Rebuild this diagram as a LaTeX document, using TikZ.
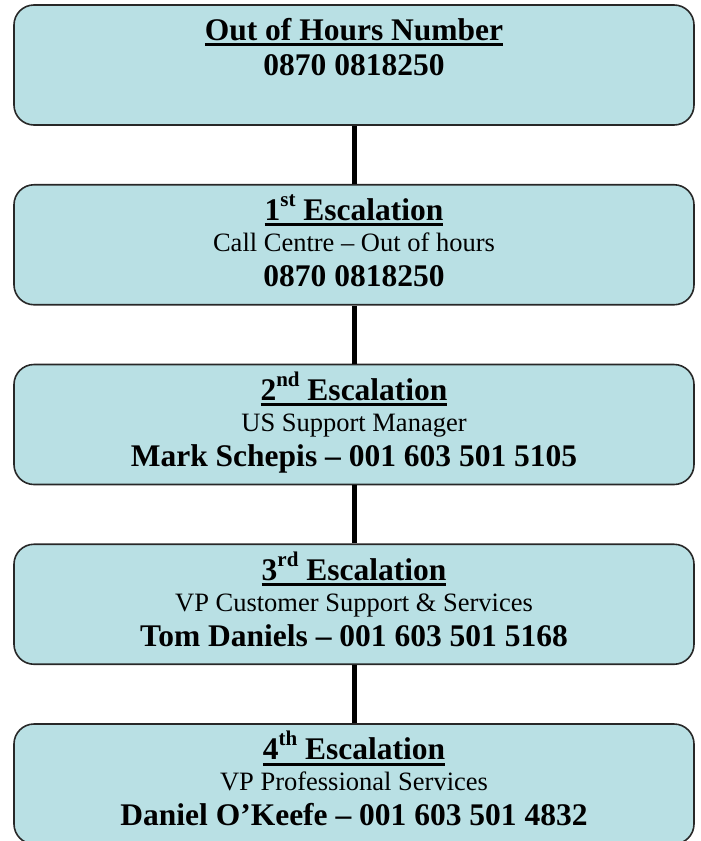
\documentclass[tikz,border=0pt]{standalone}
\usepackage{fontspec}
\setmainfont{Liberation Serif}
\usetikzlibrary{positioning}
\definecolor{boxblue}{RGB}{185,224,228}
\definecolor{boxline}{RGB}{40,40,40}
\newcommand{\ulx}[1]{\setbox0\hbox{#1}\rlap{\rule[-6pt]{\wd0}{3pt}}\box0}
\newcommand{\supx}[1]{\raisebox{14pt}{\fontsize{21}{21}\selectfont #1}}
\newcommand{\subl}[1]{{\fontsize{26.5}{35}\selectfont\mdseries #1}}
\newcommand{\topstrut}{\rule{0pt}{28pt}}
\tikzset{
  esc/.style={draw=boxline, line width=1.6pt, fill=boxblue, rounded corners=20pt,
    minimum width=680pt, minimum height=120pt, inner sep=0pt},
  txt/.style={anchor=north, align=center, inner sep=0pt, yshift=-8pt,
    font=\fontsize{31.5}{35}\selectfont\bfseries},
  link/.style={line width=5pt}
}
\begin{document}
\begin{tikzpicture}[x=1pt,y=-1pt,node distance=179.75pt,on grid]
   \clip (0,0) rectangle (701,841);
   \node[esc] (b1) at (354,65) {};
   \node[esc] (b2) [below=of b1] {};
   \node[esc] (b3) [below=of b2] {};
   \node[esc] (b4) [below=of b3] {};
   \node[esc] (b5) [below=of b4] {};
   \path[link] 
    (b1) edge (b2)
    (b2) edge (b3)
    (b3) edge (b4)
    (b4) edge (b5);
   \node[txt] (t1) at (b1.north) {\topstrut\ulx{Out of Hours Number}\\0870 0818250};
   \node[txt] (t2) at (b2.north) {\topstrut\ulx{1\supx{st} Escalation}\\[-4pt]
     \subl{Call Centre – Out of hours}\\0870 0818250};
   \node[txt] (t3) at (b3.north) {\topstrut\ulx{2\supx{nd} Escalation}\\[-4pt]
     \subl{US Support Manager}\\Mark Schepis – 001 603 501 5105};
   \node[txt] (t4) at (b4.north) {\topstrut\ulx{3\supx{rd} Escalation}\\[-4pt]
     \subl{VP Customer Support \& Services}\\Tom Daniels – 001 603 501 5168};
   \node[txt] (t5) at (b5.north) {\topstrut\ulx{4\supx{th} Escalation}\\[-4pt]
     \subl{VP Professional Services}\\Daniel O’Keefe – 001 603 501 4832};
\end{tikzpicture}
\end{document}
